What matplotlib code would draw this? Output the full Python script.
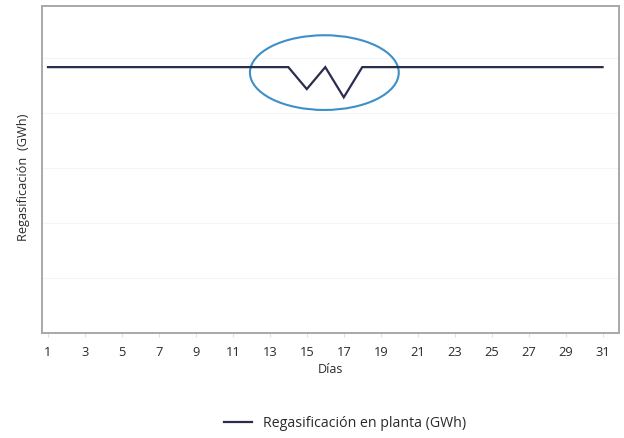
import matplotlib
matplotlib.use("Agg")
import matplotlib.pyplot as plt
from matplotlib.patches import Ellipse

plt.rcParams["font.family"] = ["Open Sans", "DejaVu Sans"]

# daily regasification, GWh (arbitrary scale: no y tick labels shown)
dias = list(range(1, 32))
regas = [4.84] * 31
regas[14] = 4.44   # day 15
regas[16] = 4.29   # day 17

xticks = list(range(1, 32, 2))
NAVY = "#2b2d4f"
BLUE = "#3d8fc9"

fig = plt.figure(figsize=(6.24, 4.38), dpi=100)
ax = fig.add_axes([0.0673, 0.2397, 0.9247, 0.7463])

ax.plot(dias, regas, color=NAVY, lw=1.6, label="Regasificación en planta (GWh)",
        solid_joinstyle="miter")

# highlight the two-day drop in output
ax.add_patch(Ellipse((15.95, 4.74), 8.05, 1.36, fill=False, ec=BLUE, lw=1.5))

ax.set_xlim(0.675, 31.89)
ax.set_ylim(0, 5.95)
ax.set_yticks([1, 2, 3, 4, 5])
ax.set_yticklabels([])
ax.tick_params(axis="y", length=0)
ax.grid(axis="y", color="#f4f4f4", lw=0.8)
ax.set_axisbelow(True)

ax.set_xticks(xticks)
ax.set_xticklabels([str(d) for d in xticks], fontsize=9.3, color="#2a2a2a")
ax.tick_params(axis="x", length=3, color="#e0e0e0", pad=6)

for s in ax.spines.values():
    s.set_color("#a8a8a8")
    s.set_linewidth(1.4)

ax.set_xlabel("Días", fontsize=9, labelpad=3, color="#2a2a2a")
ax.set_ylabel("Regasificación  (GWh)", fontsize=9.2, color="#2a2a2a")
ax.yaxis.set_label_coords(-0.02, 0.477)

fig.legend(loc="lower center", bbox_to_anchor=(0.553, -0.013), frameon=False,
           fontsize=10.2, handlelength=2.0, labelcolor="#2a2a2a")

fig.savefig("out.png", dpi=100)
